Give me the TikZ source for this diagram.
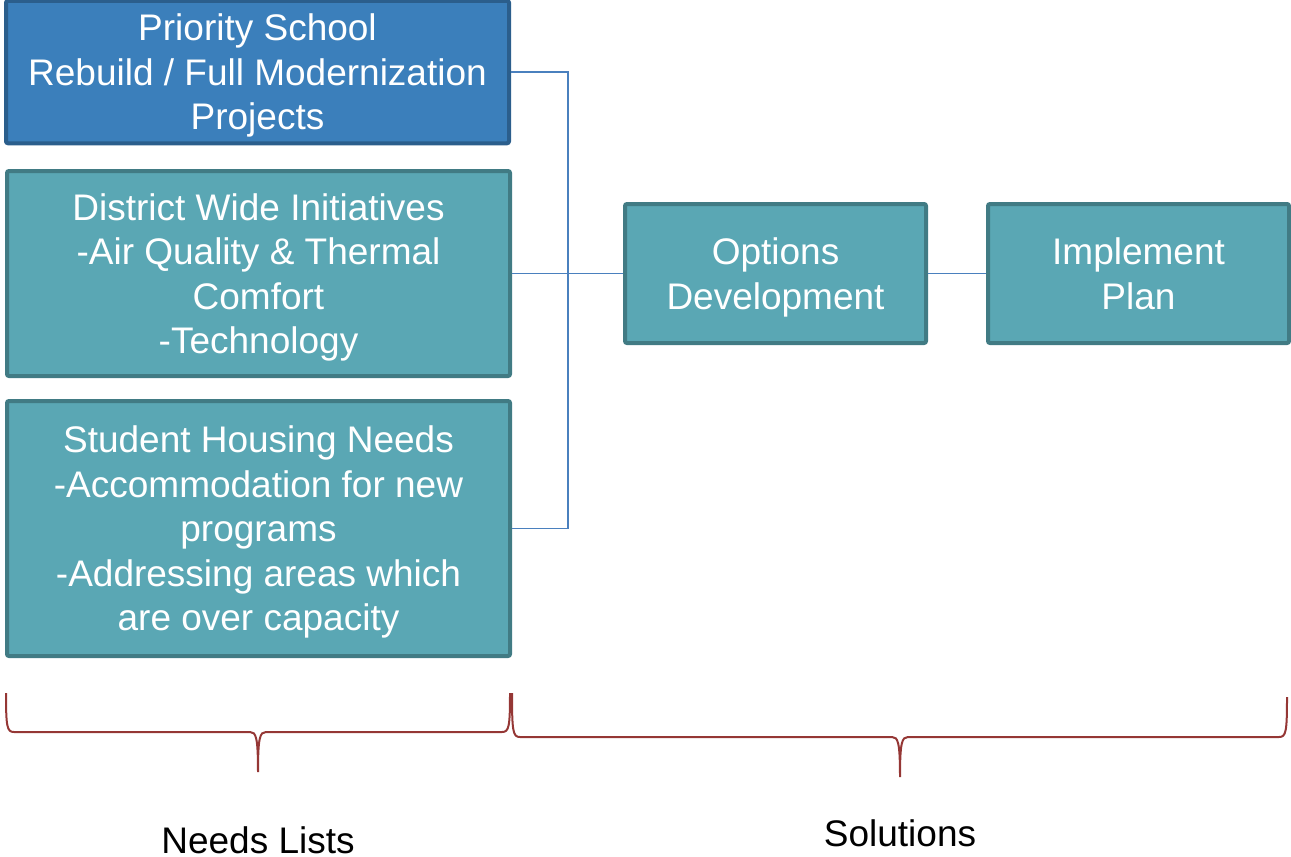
\documentclass[tikz,border=0pt]{standalone}
\usepackage{fontspec}
\setmainfont{Liberation Sans}
\definecolor{bluefill}{HTML}{3B7FBB}
\definecolor{blueedge}{HTML}{2B5E8C}
\definecolor{tealfill}{HTML}{5AA7B4}
\definecolor{tealedge}{HTML}{417B84}
\definecolor{connc}{HTML}{4A80BE}
\definecolor{bracec}{HTML}{953735}
\newcommand\boxlines[1]{\raisebox{0pt}[\dimexpr\height+9pt\relax][\depth]{\begin{tabular}{@{}c@{}}#1\end{tabular}}}
\tikzset{
  boxbase/.style={draw, line width=4pt, rounded corners=2pt, inner sep=0pt,
    text=white, font=\fontsize{37}{44.5}\selectfont},
  bluebox/.style={boxbase, fill=bluefill, draw=blueedge},
  tealbox/.style={boxbase, fill=tealfill, draw=tealedge},
  conn/.style={draw=connc, line width=1.8pt},
  bracestyle/.style={draw=bracec, line width=2pt},
  lbl/.style={font=\fontsize{37}{44.5}\selectfont, text=black, inner sep=0pt, anchor=base}
}
\begin{document}
\begin{tikzpicture}[x=1pt,y=-1pt]
\useasboundingbox (0,0) rectangle (1291,857);
\node[bluebox, minimum width=503pt, minimum height=138pt] (b1) at (257.5,72)
  {\boxlines{Priority School\\Rebuild / Full Modernization\\Projects}};
\node[tealbox, minimum width=503pt, minimum height=205pt] (b2) at (258.5,273.5)
  {\boxlines{District Wide Initiatives\\-Air Quality \& Thermal\\Comfort\\-Technology}};
\node[tealbox, minimum width=503pt, minimum height=255pt] (b3) at (258.5,528.5)
  {\boxlines{Student Housing Needs\\-Accommodation for new\\programs\\-Addressing areas which\\are over capacity}};
\node[tealbox, minimum width=301pt, minimum height=139pt] (opt) at (775.5,273.5)
  {\boxlines{Options\\Development}};
\node[tealbox, minimum width=301pt, minimum height=139pt] (impl) at (1138.5,273.5)
  {\boxlines{Implement\\Plan}};
\coordinate (bustop) at (568,72);
\coordinate (busbot) at (568,528.5);
\draw[conn] (b1.east) -- (bustop) -- (busbot) -- (b3.east);
\draw[conn] (b2.east) -- (opt.west);
\draw[conn] (opt.east) -- (impl.west);
% braces
\draw[bracestyle] (6,693) .. controls (6,727) and (7,732) .. (14,732) -- (250,732)
  .. controls (256,732) and (258,737) .. (258,772)
  .. controls (258,737) and (260,732) .. (266,732) -- (502,732)
  .. controls (509,732) and (510,727) .. (510,693);
\draw[bracestyle] (512,693) .. controls (512,732) and (513,737) .. (520,737) -- (892,737)
  .. controls (898,737) and (900,742) .. (900,777)
  .. controls (900,742) and (902,737) .. (908,737) -- (1279,737)
  .. controls (1286,737) and (1287,732) .. (1287,697);
\node[lbl] (needs) at (258,853) {Needs Lists};
\node[lbl] (sol) at (900,846) {Solutions};
\end{tikzpicture}
\end{document}
